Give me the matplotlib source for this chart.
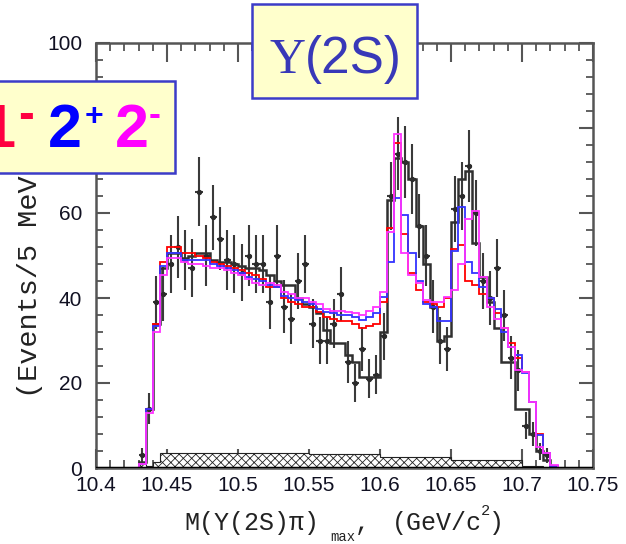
import numpy as np
import matplotlib
matplotlib.use("Agg")
import matplotlib.pyplot as plt
from matplotlib.patches import Rectangle
from matplotlib.ticker import MultipleLocator

# ---------------- data (5 MeV bins from 10.40 to 10.75 GeV) ----------------
bin_lo = 10.40
bin_w = 0.005
n_bins = 70

data_counts = [0, 0, 0, 0, 0, 0,
               3, 14, 39, 41, 48, 52, 49, 47, 65, 50,
               59, 54, 49, 48, 46, 50, 48, 48, 39, 50,
               38, 35, 44, 48, 34, 30, 30, 34, 41, 25,
               20, 28, 21, 22, 31, 64, 74, 72, 68, 57,
               50, 38, 30, 28, 61, 64, 71, 60, 44, 40,
               47, 36, 26, 23, 10, 8, 4, 3,
               0, 0, 0, 0, 0, 0]

fit_black = [0, 0, 0, 0, 0, 0,
             1.5, 14, 34, 47, 50.5, 50.5, 49.5, 50, 50.5, 50.5,
             49, 48.5, 48.5, 48, 47.5, 47, 47, 46.5, 45.5, 44,
             43, 43, 40, 38.5, 38, 36.5, 32.5, 29.5, 29.5, 26.5,
             25, 21.5, 21.5, 21.5, 32, 63, 73, 72, 68, 57,
             48, 38, 30, 31, 58, 68, 70, 53, 45, 39,
             33, 25, 25, 14, 14, 8, 4, 2,
             0, 0, 0, 0, 0, 0]

fit_1m = [0, 0, 0, 0, 0, 0,
          1, 14, 34, 48.5, 52, 52, 50.5, 50.5, 50, 49.5,
          48.5, 48, 47.5, 47, 46.5, 46, 45.5, 44.5, 42.5, 42.5,
          40, 39, 38.5, 38, 38, 36.7, 35.5, 35, 34.5, 34.5,
          34, 33, 33.5, 34, 39, 56.5, 76.5, 55, 46, 42,
          39, 38.5, 38, 40, 51.5, 52.5, 44, 43, 41, 40,
          36.5, 33, 29.5, 26, 22.5, 15.5, 8, 3.5,
          0.5, 0, 0, 0, 0, 0]

fit_2p = [0, 0, 0, 0, 0, 0,
          1, 14, 33.5, 47.5, 50.5, 50.5, 49, 49, 49, 49,
          48, 47.5, 47, 46.5, 46, 45, 44.5, 44, 43, 42.5,
          40.5, 40, 39.5, 39, 38.5, 37.5, 36.8, 36.5, 36, 36,
          35.5, 34.8, 35.5, 36.5, 40.2, 48.5, 63.5, 59.5, 50.5, 44,
          38.5, 38, 34.5, 34.5, 51, 61.5, 48.5, 46, 42.5, 40,
          37.5, 32, 28.5, 26.5, 22.3, 15.5, 7.8, 3.5,
          0.5, 0, 0, 0, 0, 0]

fit_2m = [0, 0, 0, 0, 0, 0,
          1, 13, 32, 45.5, 49.5, 49.5, 48.5, 48, 48, 47.5,
          47, 47, 46.5, 46, 45.5, 44.5, 43.5, 43, 43.5, 43,
          41.5, 41, 40, 40, 39, 38.5, 37.5, 37, 37, 36.8,
          36.5, 36, 37, 37.8, 41.5, 55.5, 78.5, 50.5, 45.5, 43.5,
          39.5, 39, 39, 40.2, 42, 48, 58.5, 60.5, 45, 38,
          35, 33, 28.5, 23, 22.5, 15.5, 5, 3.5,
          0.7, 0, 0, 0, 0, 0]

background = [0, 0, 0, 0, 0, 0,
              1, 0.5, 1.5, 3.5, 3.5, 3.5, 3.5, 3.5, 3.5, 3.5,
              3.5, 3.5, 3.5, 3.5, 3.5, 3.5, 3.5, 3.5, 3.5, 3.5,
              3.5, 3.5, 3.5, 3.5, 3.2, 3.2, 3.2, 3.2, 3.2, 3.2,
              3.2, 3.2, 3.2, 3.2, 2.7, 2.7, 2.7, 2.7, 2.7, 2.7,
              2.7, 2.7, 2.7, 2.7, 1.8, 1.8, 1.8, 1.8, 1.8, 1.8,
              1.8, 1.8, 1.8, 1.8, 0.5, 0.5, 0.5, 0,
              0, 0, 0, 0, 0, 0]

xtick_vals = [10.4, 10.45, 10.5, 10.55, 10.6, 10.65, 10.7, 10.75]
xtick_labels = ['10.4', '10.45', '10.5', '10.55', '10.6', '10.65', '10.7', '10.75']
ytick_vals = [0, 20, 40, 60, 80, 100]
ytick_labels = ['0', '20', '40', '60', '', '100']   # "80" is hidden behind the legend box

legend_labels = [('1', '-', '#ff0040'), ('2', '+', '#0000ff'), ('2', '-', '#ff00ff')]
title_text = ('\u03a5', '(2S)')

# ---------------- figure ----------------
plt.rcParams['hatch.linewidth'] = 0.6
W, H = 626, 544
fig = plt.figure(figsize=(W / 100, H / 100), dpi=100)

def fx(px):
    return px / W

def fy(py):
    return 1 - py / H

ax = fig.add_axes([fx(96), fy(468), fx(593) - fx(96), fy(43) - fy(468)])

edges = bin_lo + bin_w * np.arange(n_bins + 1)
centers = edges[:-1] + bin_w / 2
d = np.array(data_counts, dtype=float)

# background (hatched)
ax.stairs(background, edges, fill=True, facecolor='white', edgecolor='#222222',
          hatch='xxxx', linewidth=0.8, zorder=2)

# data points
m = d > 0
ax.errorbar(centers[m], d[m], yerr=np.sqrt(d[m]), xerr=bin_w / 2, fmt='o',
            markersize=2.8, color='#2a2a2a', ecolor='#3a3a3a', elinewidth=1.5,
            capsize=0, zorder=3)

# fit histograms
ax.stairs(fit_black, edges, color='#303030', linewidth=1.8, zorder=4)
ax.stairs(fit_1m, edges, color='#ff0000', linewidth=1.3, zorder=5)
ax.stairs(fit_2p, edges, color='#3333ff', linewidth=1.3, zorder=6)
ax.stairs(fit_2m, edges, color='#ff33ff', linewidth=1.3, zorder=7)
ax.axhline(0, color='black', linewidth=2.5, zorder=8)

ax.set_xlim(10.4, 10.75)
ax.set_ylim(0, 100)

tick_font = dict(family='Liberation Sans', size=15, color='#111122')
ax.set_xticks(xtick_vals, xtick_labels, fontdict=tick_font)
ax.set_yticks(ytick_vals, ytick_labels, fontdict=tick_font)
ax.xaxis.set_minor_locator(MultipleLocator(0.01))
ax.yaxis.set_minor_locator(MultipleLocator(4))
ax.tick_params(axis='x', which='major', direction='in', length=14, width=1.5,
               color='#555555', top=True, pad=6)
ax.tick_params(axis='x', which='minor', direction='in', length=6, width=1.3,
               color='#555555', top=True)
ax.tick_params(axis='y', which='major', direction='in', length=10, width=1.5,
               color='#555555', right=True, pad=10)
ax.tick_params(axis='y', which='minor', direction='in', length=5, width=1.3,
               color='#555555', right=True)
for s in ax.spines.values():
    s.set_color('#555555')
    s.set_linewidth(1.8)

# axis labels (monospace, ROOT style)
mono = 'Liberation Mono'
lab_col = '#222222'
fig.text(fx(30), fy(398), '(Events/5 MeV)', rotation=90, ha='center',
         va='bottom', family=mono, size=20.5, color=lab_col)
fig.text(fx(184), fy(530), 'M(\u03a5(2S)\u03c0)', family=mono, size=18,
         ha='left', va='baseline', color=lab_col)
fig.text(fx(330), fy(541), 'max', family=mono, size=10, ha='left',
         va='baseline', color=lab_col)
fig.text(fx(355), fy(530), ',', family=mono, size=18, ha='left',
         va='baseline', color=lab_col)
fig.text(fx(392), fy(530), '(GeV/c', family=mono, size=18, ha='left',
         va='baseline', color=lab_col)
fig.text(fx(481), fy(515), '2', family=mono, size=11, ha='left',
         va='baseline', color=lab_col)
fig.text(fx(489), fy(530), ')', family=mono, size=18, ha='left',
         va='baseline', color=lab_col)

# legend box with J^P labels
box_face = '#ffffcc'
box_edge = '#3c3cc8'
fig.patches.append(Rectangle((fx(-4), fy(173)), fx(175) - fx(-4), fy(81) - fy(173),
                             transform=fig.transFigure, facecolor=box_face,
                             edgecolor=box_edge, linewidth=1.8, zorder=10))
big = dict(family='Liberation Sans', weight='bold', size=44, va='baseline', zorder=11)
sup = dict(family='Liberation Sans', weight='bold', ha='center', va='baseline', zorder=11)
(l1, s1, c1), (l2, s2, c2), (l3, s3, c3) = legend_labels
fig.text(fx(15), fy(147), l1, ha='right', color=c1, **big)
fig.text(fx(26), fy(128), s1, size=34, color=c1, **sup)
fig.text(fx(48), fy(147), l2, ha='left', color=c2, **big)
fig.text(fx(94), fy(125), s2, size=23, color=c2, **sup)
fig.text(fx(115), fy(147), l3, ha='left', color=c3, **big)
fig.text(fx(155), fy(125), s3, size=26, color=c3, **sup)

# title box
fig.patches.append(Rectangle((fx(252), fy(98)), fx(417) - fx(252), fy(4) - fy(98),
                             transform=fig.transFigure, facecolor=box_face,
                             edgecolor=box_edge, linewidth=1.8, zorder=10))
title_col = '#3838b8'
fig.text(fx(305), fy(73), title_text[0], ha='right', va='baseline',
         family='Liberation Serif', size=36, color=title_col, zorder=11)
fig.text(fx(305), fy(73), title_text[1], ha='left', va='baseline',
         family='Liberation Sans', size=37, color=title_col, zorder=11)

fig.savefig('out.png', dpi=100)
